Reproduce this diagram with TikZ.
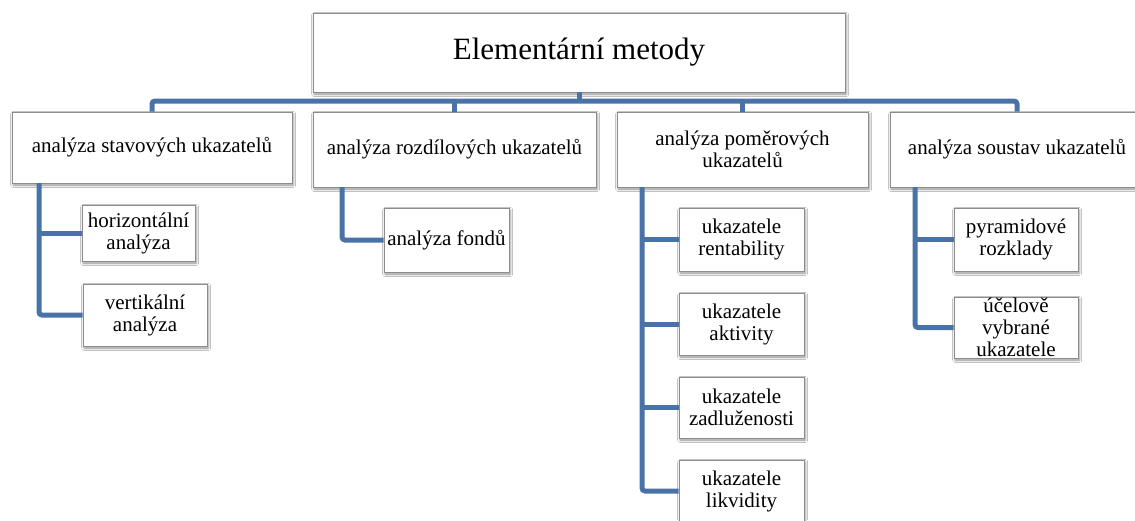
\documentclass[tikz,border=0pt]{standalone}
\usepackage{fontspec}
\setmainfont{Liberation Serif}
\usetikzlibrary{shadows.blur}
\definecolor{conncol}{RGB}{72,114,168}
\begin{document}
\begin{tikzpicture}[x=1pt,y=-1pt,
  box/.style={draw=black!45, line width=0.8pt, fill=white, rectangle, inner sep=0pt,
    align=center, font=\fontsize{21}{22}\selectfont,
    blur shadow={shadow xshift=1.2pt, shadow yshift=-2pt, shadow blur radius=2.5pt, shadow opacity=45}},
  conn/.style={draw=conncol, line width=5pt, rounded corners=3pt}]
\useasboundingbox (0,0) rectangle (1135,520);
\fill[white] (0,0) rectangle (1135,520);

% top
\node[box, minimum width=532pt, minimum height=79pt, font=\fontsize{31}{33}\selectfont] (top) at (579,52.5) {Elementární metody};

% level 1
\node[box, minimum width=280pt, minimum height=71pt] (stav) at (152,147.5) {analýza stavových ukazatelů};
\node[box, minimum width=283pt, minimum height=75pt] (rozd) at (454.5,149.5) {analýza rozdílových ukazatelů};
\node[box, minimum width=251pt, minimum height=75pt] (pom) at (742.5,149.5) {analýza poměrových\\ukazatelů};
\node[box, minimum width=254pt, minimum height=75pt] (sous) at (1017,149.5) {analýza soustav ukazatelů};

% level 2
\node[box, minimum width=113pt, minimum height=56pt] (horiz) at (138.5,233) {horizontální\\analýza};
\node[box, minimum width=124pt, minimum height=62pt] (vert) at (145,315) {vertikální\\analýza};
\node[box, minimum width=125pt, minimum height=64pt] (fond) at (446.5,240) {analýza fondů};
\node[box, minimum width=125pt, minimum height=63pt] (rent) at (741.5,239.5) {ukazatele\\rentability};
\node[box, minimum width=125pt, minimum height=62pt] (akt) at (741.5,324) {ukazatele\\aktivity};
\node[box, minimum width=125pt, minimum height=61pt] (zadl) at (741.5,407.5) {ukazatele\\zadluženosti};
\node[box, minimum width=125pt, minimum height=62pt] (likv) at (741.5,491) {ukazatele\\likvidity};
\node[box, minimum width=124pt, minimum height=63pt] (pyr) at (1016,239.5) {pyramidové\\rozklady};
\node[box, minimum width=124pt, minimum height=61pt] (ucel) at (1016,327.5) {účelově\\vybrané\\ukazatele};

% bus
\coordinate (bus) at (0,101);
\coordinate (stavT) at (39,183);
\coordinate (rozdT) at (342,187);
\coordinate (pomT) at (642,187);
\coordinate (sousT) at (915,187);

\draw[conn] (stav.north) -- (stav.north |- bus) -- (sous.north |- bus) -- (sous.north);
\draw[conn] (top.south) -- (top.south |- bus);
\draw[conn] (rozd.north) -- (rozd.north |- bus);
\draw[conn] (pom.north) -- (pom.north |- bus);

% children
\draw[conn] (stavT) |- (vert.west);
\draw[conn] (stavT |- horiz.west) -- (horiz.west);

\draw[conn] (rozdT) |- (fond.west);

\draw[conn] (pomT) |- (likv.west);
\draw[conn] (pomT |- rent.west) -- (rent.west);
\draw[conn] (pomT |- akt.west) -- (akt.west);
\draw[conn] (pomT |- zadl.west) -- (zadl.west);

\draw[conn] (sousT) |- (ucel.west);
\draw[conn] (sousT |- pyr.west) -- (pyr.west);
\end{tikzpicture}
\end{document}
